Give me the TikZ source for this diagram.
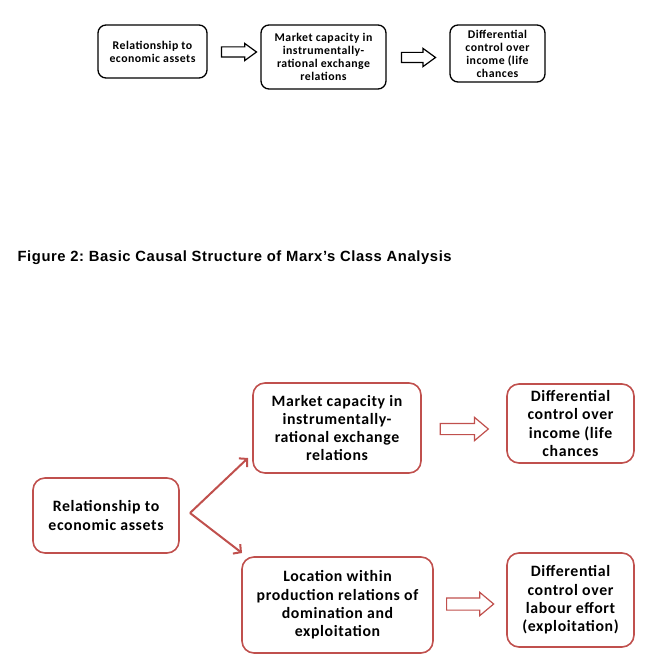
\documentclass[tikz,border=0pt]{standalone}
\usepackage{fontspec}
\setmainfont{Carlito}
\newfontfamily\boxfont[LetterSpace=4]{Carlito}
\newfontfamily\arialfont[LetterSpace=4]{Liberation Sans}
\usetikzlibrary{shapes.arrows,arrows.meta,positioning}
\definecolor{boxred}{RGB}{192,80,77}
\frenchspacing

\tikzset{
  topbox/.style={draw, rounded corners=8pt, line width=1.3pt, align=center,
    inner sep=0pt, font=\boxfont\bfseries\fontsize{11.8}{13}\selectfont},
  redbox/.style={draw=boxred, rounded corners=12pt, line width=1.6pt, align=center,
    inner sep=0pt, font=\boxfont\bfseries\fontsize{15.8}{18.3}\selectfont},
  hollow/.style n args={3}{single arrow, draw, inner sep=0pt, line width=1.2pt,
    minimum height=#1, text height=#2, text depth=0pt, single arrow head extend=#3},
  redarrow/.style={boxred, line width=2pt, -{Straight Barb[length=5.5pt,width=12pt]}}
}

\begin{document}
\begin{tikzpicture}[x=1pt, y=-1pt]
\useasboundingbox (0,0) rectangle (649,660);

% first figure
\node [topbox, minimum width=109pt, minimum height=53pt] (rel) at (152.5,51.5)
  {Relationship to\\economic assets};
\node [topbox, minimum width=125pt, minimum height=64pt] (mkt) at (323.5,57)
  {Market capacity in\\instrumentally-\\rational exchange\\relations};
\node [topbox, minimum width=95pt, minimum height=57pt] (inc) at (497.5,53.5)
  {Differential\\control over\\income (life\\chances};
\node [hollow={35pt}{9pt}{3.5pt}, single arrow tip angle=72] (a1) at (235.5,52) {};
\node [hollow={34pt}{9pt}{4pt}, single arrow tip angle=72] (a2) at (415,57.5) {};

\node [anchor=west, font=\arialfont\bfseries\fontsize{14.8}{17}\selectfont] (title) at (14,258)
  {Figure 2: Basic Causal Structure of Marx’s Class Analysis};

% second figure
\node [redbox, minimum width=146pt, minimum height=75pt] (relB) at (106,515.5)
  {Relationship to\\economic assets};
\node [redbox, minimum width=168pt, minimum height=90pt] (mktB) at (337,428)
  {Market capacity in\\instrumentally-\\rational exchange\\relations};
\node [redbox, minimum width=127pt, minimum height=79pt] (incB) at (570.5,423.5)
  {Differential\\control over\\income (life\\chances};
\node [redbox, minimum width=191pt, minimum height=96pt] (loc) at (337.5,605)
  {Location within\\production relations of\\domination and\\exploitation};
\node [redbox, minimum width=127pt, minimum height=94pt] (lab) at (570.5,600)
  {Differential\\control over\\labour effort\\(exploitation)};

\node [hollow={48pt}{10pt}{6pt}, draw=boxred, single arrow tip angle=80] (a3) at (461,429) {};
\node [hollow={47pt}{11pt}{5.5pt}, draw=boxred, single arrow tip angle=80] (a4) at (466.5,604) {};

\coordinate (fork) at (190,513);
\coordinate (upend) at (248,458);
\coordinate (downend) at (242,553);
\draw [redarrow] (fork) -- (upend);
\draw [redarrow] (fork) -- (downend);
\end{tikzpicture}
\end{document}
